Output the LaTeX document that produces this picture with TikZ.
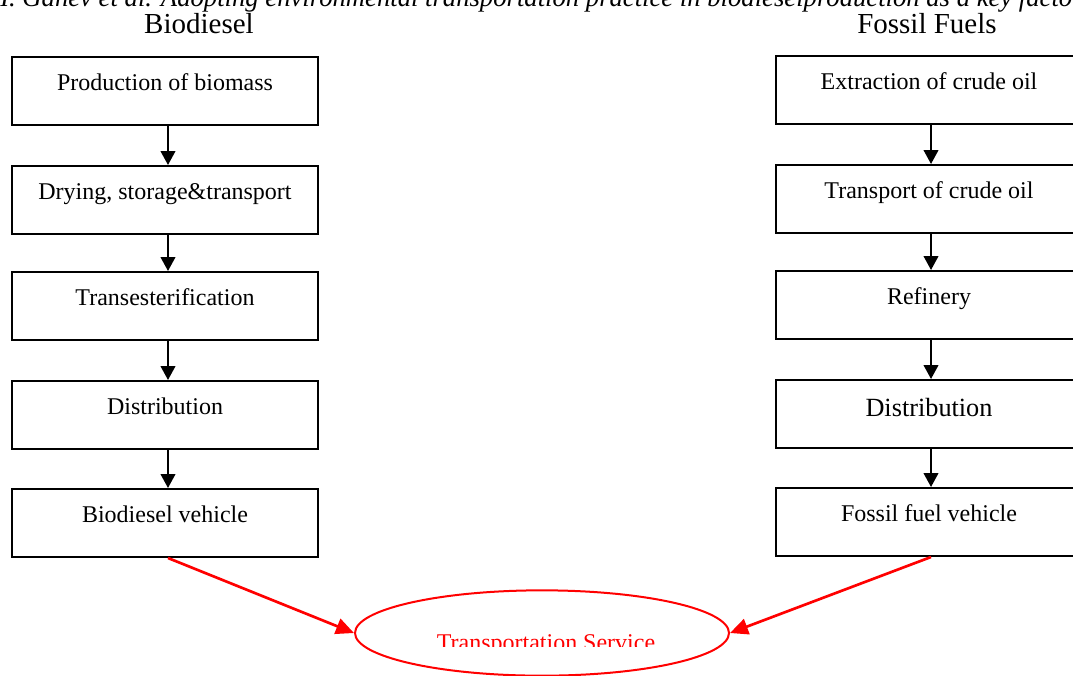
\documentclass[tikz,border=0pt]{standalone}
\usepackage{fontspec}
\setmainfont{Liberation Serif}
\usetikzlibrary{shapes.geometric,arrows.meta}
\begin{document}
\begin{tikzpicture}[x=0.75pt,y=-0.75pt,
  stagebox/.style={draw=black,line width=1.5pt,fill=white,minimum width=229.5pt,
    inner xsep=0pt,inner ysep=0pt,text height=24.75pt,text depth=26.25pt,
    font=\fontsize{18pt}{20pt}\selectfont},
  colhead/.style={anchor=base,font=\fontsize{21.75pt}{24pt}\selectfont},
  flow/.style={line width=1.5pt,-{Triangle[length=10.5pt,width=11pt]}},
  redflow/.style={red,line width=2pt,-{Triangle[length=13.5pt,width=12pt]}}]
\useasboundingbox (0,0) rectangle (1073,675);
\clip (0,0) rectangle (1073,675);

% running header
\node[anchor=base west,inner sep=0pt,font=\fontsize{20pt}{22pt}\selectfont\itshape]
  (runhead) at (0,6) {I. Ganev et al. Adopting environmental transportation practice in biodieselproduction as a key factor};

% column headings
\node[colhead] (hbio) at (199,33) {Biodiesel};
\node[colhead] (hfos) at (927,33) {Fossil Fuels};

% biodiesel chain
\node[stagebox] (b1) at (165,91)  {Production of biomass};
\node[stagebox] (b2) at (165,200) {Drying, storage\&transport};
\node[stagebox] (b3) at (165,306) {Transesterification};
\node[stagebox] (b4) at (165,415) {Distribution};
\node[stagebox] (b5) at (165,523) {Biodiesel vehicle};

% fossil fuel chain
\node[stagebox] (f1) at (929,90)  {Extraction of crude oil};
\node[stagebox] (f2) at (929,199) {Transport of crude oil};
\node[stagebox] (f3) at (929,305) {Refinery};
\node[stagebox,font=\fontsize{19.7pt}{22pt}\selectfont,text height=27pt,text depth=24pt] (f4) at (929,414) {Distribution};
\node[stagebox] (f5) at (929,522) {Fossil fuel vehicle};

\foreach \a/\b in {b1/b2,b2/b3,b3/b4,b4/b5}
  \draw[flow] ([xshift=2.25pt]\a.south) -- ([xshift=2.25pt]\b.north);
\foreach \a/\b in {f1/f2,f2/f3,f3/f4,f4/f5}
  \draw[flow] ([xshift=1.5pt]\a.south) -- ([xshift=1.5pt]\b.north);

% common service
\node[ellipse,draw=red,line width=1.5pt,minimum width=280.5pt,minimum height=64pt,inner sep=0pt]
  (ts) at (542,633) {};
\begin{scope}
  \clip (0,0) rectangle (1073,646.5);
  \node[anchor=base,inner sep=0pt,red,font=\fontsize{18pt}{20pt}\selectfont] (tslabel) at (546,650) {Transportation Service};
\end{scope}

\draw[redflow] ([xshift=2.25pt]b5.south) -- (ts.west);
\draw[redflow] ([xshift=1.5pt]f5.south) -- (ts.east);
\end{tikzpicture}
\end{document}
